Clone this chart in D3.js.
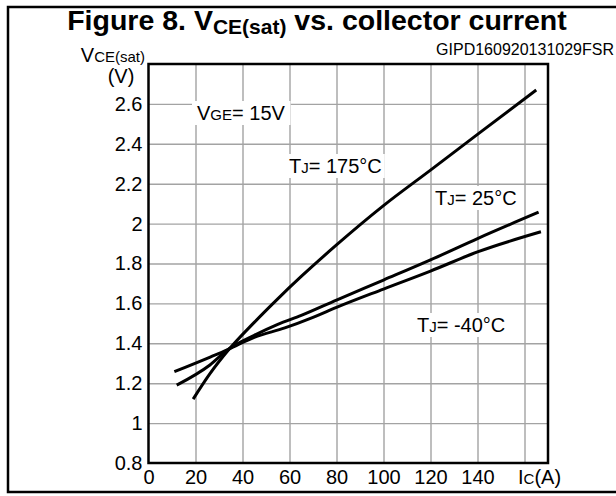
<!DOCTYPE html>
<html>
<head>
<meta charset="utf-8">
<script src="https://cdn.jsdelivr.net/npm/d3@7"></script>
<style>
  body { margin: 0; background: #fff; }
  svg { display: block; font-family: "Liberation Sans", Arial, sans-serif; }
  .grid line { stroke: #a3a3a3; stroke-width: 1.4px; }
</style>
</head>
<body>
<svg width="616" height="496"></svg>
<script>
// collector current (A) and Vce(sat) (V)
const tj175 = [[19, 1.12], [26, 1.245], [34, 1.366], [45, 1.505], [55, 1.623], [65, 1.735],
  [80, 1.893], [100, 2.09], [120, 2.268], [140, 2.447], [165, 2.67]];
const tj25 = [[12, 1.19], [26, 1.29], [34, 1.37], [45, 1.44], [55, 1.495], [65, 1.54],
  [80, 1.617], [100, 1.717], [120, 1.818], [140, 1.925], [166, 2.057]];
const tjm40 = [[11, 1.258], [26, 1.33], [34, 1.37], [45, 1.43], [58, 1.477], [70, 1.53],
  [80, 1.58], [100, 1.672], [120, 1.762], [140, 1.858], [167, 1.959]];

const xTicks = [0, 20, 40, 60, 80, 100, 120, 140];
const xGrid = [20, 40, 60, 80, 100, 120, 140, 160];
const yTicks = [0.8, 1, 1.2, 1.4, 1.6, 1.8, 2, 2.2, 2.4, 2.6];

const svg = d3.select('svg');
const plot = { left: 148.5, right: 548, top: 64, bottom: 463 };

const x = d3.scaleLinear().domain([0, 170]).range([plot.left, plot.right]);
const y = d3.scaleLinear().domain([0.8, 2.8]).range([plot.bottom, plot.top]);

// outer frame
svg.append('rect')
  .attr('x', 8).attr('y', 7).attr('width', 640).attr('height', 485)
  .attr('fill', 'none').attr('stroke', '#000').attr('stroke-width', 2.5);

// title
const title = svg.append('text')
  .attr('x', 317).attr('y', 30)
  .attr('text-anchor', 'middle')
  .attr('font-weight', 'bold').attr('font-size', 28.5);
title.append('tspan').text('Figure 8. V');
title.append('tspan').attr('dy', 4).attr('font-size', 21).text('CE(sat)');
title.append('tspan').attr('dy', -4).text(' vs. collector current');

svg.append('text')
  .attr('x', 614).attr('y', 55)
  .attr('text-anchor', 'end').attr('font-size', 16)
  .text('GIPD160920131029FSR');

// grid, drawn with the axes' own tick lines
svg.append('g').attr('class', 'grid')
  .attr('transform', `translate(0,${plot.bottom})`)
  .call(d3.axisBottom(x).tickValues(xGrid).tickSize(-(plot.bottom - plot.top)).tickFormat(''))
  .call(g => g.select('.domain').remove());
svg.append('g').attr('class', 'grid')
  .attr('transform', `translate(${plot.left},0)`)
  .call(d3.axisLeft(y).tickValues(yTicks.slice(1)).tickSize(-(plot.right - plot.left)).tickFormat(''))
  .call(g => g.select('.domain').remove());

// axes, labels only (frame drawn separately)
const xAxis = svg.append('g')
  .attr('transform', `translate(0,${plot.bottom})`)
  .call(d3.axisBottom(x).tickValues(xTicks).tickSize(0).tickPadding(7).tickFormat(d3.format('d')));
const yAxis = svg.append('g')
  .attr('transform', `translate(${plot.left},0)`)
  .call(d3.axisLeft(y).tickValues(yTicks).tickSize(0).tickPadding(6).tickFormat(d => String(d)));
[xAxis, yAxis].forEach(g => {
  g.select('.domain').remove();
  g.selectAll('text').attr('font-size', 20).attr('fill', '#000')
    .attr('font-family', '"Liberation Sans", Arial, sans-serif');
});
xAxis.selectAll('text').attr('dy', '0.71em');

// in-plot labels with white boxes
function label(px, py, main, sub, rest, pad) {
  const g = svg.append('g');
  const box = g.append('rect').attr('fill', '#fff');
  const t = g.append('text').attr('x', px).attr('y', py).attr('font-size', 20);
  t.append('tspan').text(main);
  t.append('tspan').attr('font-size', 15).text(sub);
  t.append('tspan').text(rest);
  const b = t.node().getBBox();
  box.attr('x', b.x - pad).attr('y', b.y - 1).attr('width', b.width + pad * 2).attr('height', b.height + 2);
}
label(197, 120, 'V', 'GE', '= 15V', 5);
label(289, 173, 'T', 'J', '= 175°C', 3);
label(435, 205, 'T', 'J', '= 25°C', 3);
label(417, 332, 'T', 'J', '= -40°C', 3);

// curves
const curve = d3.line().x(d => x(d[0])).y(d => y(d[1])).curve(d3.curveMonotoneX);
svg.append('g').selectAll('path').data([tj175, tj25, tjm40]).join('path')
  .attr('d', curve)
  .attr('fill', 'none').attr('stroke', '#000').attr('stroke-width', 3);

// plot frame
svg.append('rect')
  .attr('x', plot.left).attr('y', plot.top)
  .attr('width', plot.right - plot.left).attr('height', plot.bottom - plot.top)
  .attr('fill', 'none').attr('stroke', '#000').attr('stroke-width', 2.5);

// axis titles
const yt = svg.append('text').attr('x', 145).attr('y', 62).attr('text-anchor', 'end').attr('font-size', 20);
yt.append('tspan').text('V');
yt.append('tspan').attr('font-size', 15).text('CE(sat)');
svg.append('text').attr('x', 121).attr('y', 83).attr('text-anchor', 'middle').attr('font-size', 20).text('(V)');

const xt = svg.append('text').attr('x', 518).attr('y', 484).attr('font-size', 20);
xt.append('tspan').text('I');
xt.append('tspan').attr('font-size', 15).text('C');
xt.append('tspan').text('(A)');
</script>
</body>
</html>
